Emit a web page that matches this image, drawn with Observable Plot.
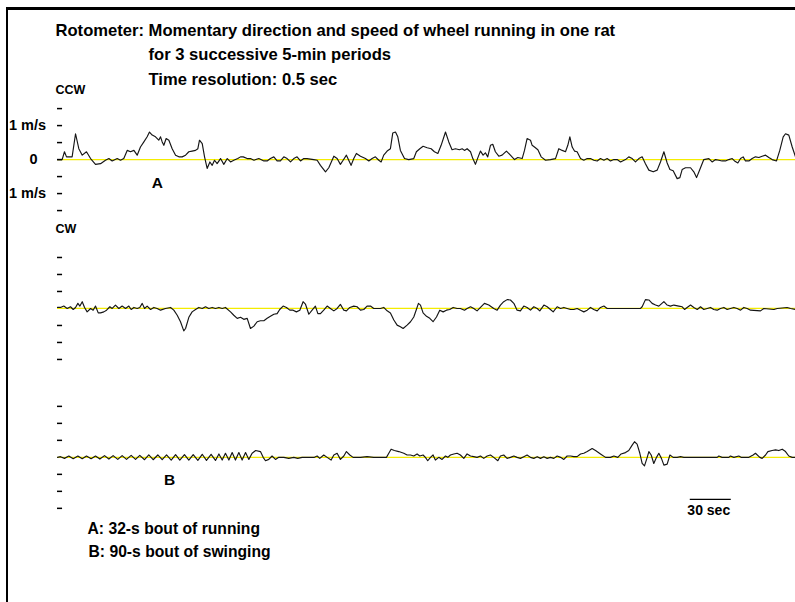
<!DOCTYPE html>
<html>
<head>
<meta charset="utf-8">
<script src="https://cdn.jsdelivr.net/npm/d3@7"></script>
<script src="https://cdn.jsdelivr.net/npm/@observablehq/plot@0.6"></script>
<style>
  html, body { margin: 0; padding: 0; background: #fff; }
  body { width: 795px; height: 602px; position: relative; overflow: hidden; }
  #chart { position: absolute; left: 0; top: 0; }
  #frame {
    position: absolute; left: 6px; top: 7px; right: -10px; bottom: -10px;
    border-top: 3px solid #000; border-left: 2px solid #000; pointer-events: none;
  }
</style>
</head>
<body>
<div id="chart"></div>
<div id="frame"></div>
<script>
// Wheel speed in m/s (positive = counter-clockwise, negative = clockwise),
// as [time in s, speed] pairs for three successive recording periods.
const period1 = [
  [0,0],[3.4,0],[5.1,0.23],[6.6,0.08],[10.7,0.08],[13.2,0.76],[15.6,0.32],[18.1,0.13],[21.2,0.23],[24.2,0.03],
  [27.8,-0.14],[31.5,-0.12],[35.1,-0.02],[37.6,0.03],[40,-0.04],[43.7,0.03],[46.1,-0.02],[48.5,0.03],[51,0.27],[53.4,0.23],
  [55.9,0.27],[58.3,0.13],[60.7,0.37],[63.2,0.52],[65.6,0.67],[67.3,0.81],[69.3,0.72],[71.7,0.67],[74.1,0.57],[75.4,0.67],
  [76.6,0.52],[77.8,0.42],[79.5,0.62],[81.5,0.57],[83.9,0.32],[86.4,0.13],[88.8,0.08],[91.2,0.08],[93.7,0.13],[96.1,0.23],
  [98.5,0.25],[101,0.27],[102.7,0.32],[103.9,0.57],[105.9,0.47],[107.6,0.08],[109.5,-0.26],[111.5,-0.07],[113.2,-0.17],[114.9,-0.02],
  [116.8,-0.12],[119.3,0.03],[121.7,-0.14],[124.2,0.03],[126.6,-0.07],[129,-0.02],[131.9,0.03],[133.9,0.08],[135.9,0.08],[138.8,0.03],
  [141.2,0.03],[143.7,-0.02],[147.3,0.03],[151,-0.04],[153.4,-0.04],[155.8,0.03],[158.3,0.08],[160.7,-0.04],[163.1,-0.04],[165.6,0.08],
  [168,0.03],[170.5,-0.07],[172.9,0.03],[175.3,0.08],[177.8,-0.04],[180.2,0.03],[182.6,0.03],[187.5,0],[190,-0.02],[192.4,-0.17],
  [196.1,-0.36],[198.5,-0.24],[202.2,0.1],[204.6,0.03],[207,-0.14],[209,-0.02],[211.4,0.13],[213.1,-0.02],[214.8,-0.17],[216.8,0.03],
  [218.7,0.18],[221.7,0.1],[225.3,0.03],[227.8,-0.04],[230.2,0.03],[232.6,0.08],[235.1,-0.02],[236.8,-0.07],[238.7,0.13],[241.2,0.25],
  [243.6,0.32],[245.3,0.78],[247.3,0.81],[249,0.67],[250.9,0.27],[253.9,0.03],[257,0],[260.7,0.03],[262.6,0.23],[265.1,0.32],
  [267.5,0.39],[270.5,0.35],[273.4,0.32],[275.8,0.23],[278.3,0.18],[280.7,0.42],[283.9,0.81],[286.3,0.52],[288.7,0.29],[291.2,0.32],
  [294.1,0.29],[296.1,0.32],[297.8,0.27],[299.7,0.32],[302.2,0.23],[303.9,0.03],[305.8,-0.14],[307.8,0.08],[309.5,0.25],[311.4,0.13],
  [313.1,0.2],[314.8,0.08],[316.8,0.42],[318.5,0.45],[320.4,0.23],[322.9,0.1],[325.3,0.13],[328.5,0.25],[331.4,0.13],[334.4,0],
  [336.8,0.06],[340,0.03],[341.7,0.27],[343.6,0.62],[346.1,0.57],[347.3,0.42],[349,0.37],[351.5,0.29],[353.9,0.08],[357.1,-0.02],
  [360.7,0],[364.4,0.03],[366.8,0.32],[369.3,0.27],[371.7,0.23],[373.4,0.42],[374.9,0.67],[376.6,0.37],[378.3,0.25],[380.2,0.23],
  [382.7,0.03],[385.1,-0.02],[387.6,0.03],[390,0.03],[392.4,-0.02],[394.9,-0.04],[397.3,0.03],[399.8,-0.02],[402.2,0.03],[404.6,-0.04],
  [407.1,0],[409.5,0],[412,-0.07],[415.6,0],[418,0.08],[420.5,0.03],[422.9,-0.07],[425.4,0.03],[427.8,0.08],[430.2,-0.12],
  [432.7,-0.31],[435.9,-0.36],[438.8,-0.31],[441.2,-0.07],[443.7,0.23],[446.1,-0.1],[448.1,-0.29],[450.5,-0.33],[453.4,-0.56],[455.4,-0.53],
  [457.1,-0.29],[459.5,-0.24],[463.2,-0.24],[465.6,-0.36],[467.6,-0.53],[470,-0.29],[472.9,0],[476.6,0.03],[479,-0.07],[481.5,0],
  [483.9,-0.02],[486.3,-0.04],[488.8,-0.04],[491.2,0],[493.7,0.03],[495.4,-0.04],[497.8,-0.1],[499.8,0.03],[501.7,0.08],[503.4,-0.04],
  [505.9,-0.04],[508.3,0.03],[510.7,0.08],[513.2,0.06],[515.6,0.1],[518.1,0.13],[520.5,0.06],[522.9,0],[526.1,-0.04],[528.5,0.27],
  [531,0.67],[532.7,0.76],[535.1,0.72],[537.6,0.37],[540,0.08]
];

const period2 = [
  [0,0.03],[2.2,0.03],[4.6,0.07],[7.1,0],[9.5,0.05],[11.5,-0.03],[13.2,0.03],[14.9,0.15],[16.4,0.07],[18.1,0.2],
  [19.8,0.03],[21.7,-0.1],[24.2,0],[26.1,-0.05],[27.8,0.07],[29.8,-0.13],[31.5,-0.13],[33.9,-0.1],[35.9,-0.05],[38.3,0.05],
  [40,0],[42.4,0.1],[44.9,0],[47.3,0.07],[49.8,0],[52.2,0.07],[53.9,-0.03],[55.9,0.03],[58.3,0],[60.2,0.03],
  [62,0.15],[63.7,0],[65.6,0.07],[68.1,-0.03],[70.5,0.03],[72.9,0],[75.4,-0.05],[79,0],[82.7,0.03],[85.1,-0.05],
  [87.6,-0.2],[90,-0.39],[92.4,-0.66],[93.7,-0.59],[96.1,-0.26],[98.5,-0.1],[101,-0.03],[103.4,0.03],[105.9,0],[108.3,0.05],
  [110.7,0],[113.2,0.03],[115.6,0],[118.1,0.03],[120.5,0],[122.9,0.03],[126.6,-0.1],[129,-0.2],[131.5,-0.29],[133.9,-0.26],
  [136.3,-0.32],[138.8,-0.29],[141.2,-0.59],[143.7,-0.52],[146.1,-0.39],[148.5,-0.36],[151,-0.36],[153.4,-0.29],[155.8,-0.23],[158.3,-0.17],
  [160.7,-0.15],[162.6,-0.03],[165.1,0.07],[167.5,0.03],[170,-0.05],[172.4,-0.05],[174.8,-0.1],[177.3,-0.05],[179.7,0.2],[181.4,0.13],
  [183.9,-0.17],[186.3,-0.05],[188.7,0.07],[190.5,-0.15],[192.4,-0.15],[194.8,-0.05],[197.3,0.07],[199.7,0],[202.2,-0.07],[204.6,0],
  [207,0.12],[209.5,-0.05],[211.4,-0.07],[213.9,0.03],[216.8,0.07],[219.2,0.05],[221.7,-0.05],[224.1,-0.03],[226.5,0.07],[229,0.07],
  [231.4,0],[233.9,0],[236.3,0],[238.7,0.03],[241.2,-0.07],[243.6,-0.13],[246.1,-0.34],[248.5,-0.49],[250.9,-0.54],[252.9,-0.59],
  [255.8,-0.49],[258.3,-0.39],[260.7,-0.25],[262.6,-0.03],[264.1,0.15],[265.6,0.1],[267.5,-0.13],[270,-0.23],[272.4,-0.29],[274.8,-0.39],
  [277.3,-0.25],[279.7,-0.05],[282.2,-0.1],[284.6,-0.05],[287,-0.03],[289.5,0.03],[292.4,0],[294.8,0],[297.8,-0.05],[299.7,0],
  [302.2,0.05],[304.6,0],[307,-0.07],[309.5,0.03],[312.4,0.15],[315.6,0.1],[319.2,0],[321.7,-0.05],[324.1,0.1],[326.5,0.2],
  [329,0.26],[331.4,0.25],[333.9,0.15],[336.3,-0.05],[338.7,-0.07],[341.2,0.07],[343.6,0.03],[346.1,-0.05],[348.5,0.05],[351,0],
  [352.9,-0.07],[355.9,0.1],[358.3,0.05],[360.7,-0.03],[362.7,-0.1],[365.6,0.05],[368.1,0],[370.5,0.03],[372.9,0],[375.4,-0.03],
  [377.8,-0.03],[380.2,0],[382.7,-0.05],[385.1,-0.1],[387.6,-0.05],[390,0.03],[392.4,-0.03],[394.9,-0.07],[397.3,0.03],[399.8,0.07],
  [402.2,0],[426.6,0],[427.8,0.05],[430.2,0.26],[432.7,0.25],[435.1,0.15],[437.6,0.1],[440,0.07],[443.7,0.2],[446.1,0.1],
  [448.5,0.07],[451,0.1],[454.6,0.07],[457.1,0.05],[458.8,-0.03],[460.7,0.03],[463.2,0.1],[465.6,0.03],[468.1,-0.03],[470.5,0.05],
  [472.9,-0.03],[475.4,0],[477.8,0.03],[480.2,-0.03],[482.7,-0.05],[485.1,0],[487.6,0.03],[490,-0.03],[492.4,0],[494.9,0.03],
  [497.3,0],[499.8,-0.05],[502.2,0.03],[504.6,0],[507.1,-0.05],[514.4,-0.07],[516.8,0],[524.2,-0.03],[526.6,0],[533.9,0.03],
  [536.4,0],[540,-0.03]
];

const period3 = [
  [0,0],[2.2,0.02],[5.1,-0.03],[8.3,0.04],[11.5,-0.04],[14.9,0.04],[18.1,-0.04],[21.2,0.04],[24.6,-0.04],[27.8,0.04],
  [31,-0.05],[34.4,0.05],[37.6,-0.05],[40.7,0.05],[44.1,-0.06],[47.3,0.05],[50.5,-0.06],[53.9,0.06],[57.1,-0.06],[60.2,0.06],
  [63.7,-0.07],[66.8,0.07],[70,-0.07],[73.4,0.07],[76.6,-0.07],[79.8,0.07],[83.2,-0.08],[86.4,0.08],[89.5,-0.08],[92.9,0.08],
  [96.1,-0.08],[99.3,0.08],[102.7,-0.09],[105.9,0.09],[109,-0.09],[112.4,0.09],[115.6,-0.09],[118.1,0.1],[120.5,-0.08],[122.9,0.12],
  [125.4,-0.08],[127.8,0.14],[130.2,-0.08],[132.7,0.14],[135.1,-0.08],[137.6,0.14],[140,-0.06],[142.4,0.12],[145,0.2],[148.5,0.17],
  [150.5,0],[152.2,-0.1],[154.6,-0.06],[157,0.04],[159.5,-0.06],[161.9,0],[165.6,0],[169.2,-0.03],[172.9,0],[175.8,-0.03],
  [179,0],[183.9,0],[188,0],[190,0.04],[191.9,-0.03],[194.8,0.07],[197.3,0],[200.2,-0.08],[202.2,0.07],[204.6,0.12],
  [207,-0.06],[209.5,0.04],[211.4,0.17],[213.9,0.07],[216.3,0],[221.7,0],[226.5,0.02],[231.4,0],[240.7,0],[242.4,0.12],
  [244.1,0.24],[246.5,0.2],[249.7,0.17],[253.4,0.12],[255.8,0.07],[258.3,0.07],[260.7,0.04],[263.1,0.1],[265.1,0.04],[267.5,0.07],
  [269.2,0],[270.9,-0.1],[272.9,0],[274.8,0.07],[276.5,-0.08],[279,0],[281.4,-0.06],[283.9,0.04],[285.6,0],[287.5,0.07],
  [290,0.1],[292.4,0.12],[294.8,0.07],[297.3,-0.03],[299.7,0.1],[302.2,0.04],[304.6,0.02],[307,0],[309.5,0.04],[311.9,-0.03],
  [314.4,0.04],[316.8,0.07],[319.2,0],[322.2,-0.1],[324.1,0.04],[326.5,0.07],[329,-0.03],[331.4,0],[333.9,0.04],[336.3,0],
  [338.7,-0.03],[341.2,0.02],[343.6,0.07],[346.1,0],[348.5,-0.03],[351,0.02],[353.4,-0.03],[355.9,0.02],[358.3,-0.03],[360.7,0],
  [363.2,-0.03],[365.6,0.04],[368.1,0],[370.5,-0.06],[372.9,0.04],[375.4,0.04],[377.8,0.02],[380.2,0.02],[382.7,0.1],[385.1,0.12],
  [387.6,0.17],[391.2,0.26],[393.7,0.2],[397.3,0.1],[401,0],[404.6,0],[407.1,0.04],[410,0],[412.4,0.1],[415.6,0.14],
  [418,0.2],[420.5,0.36],[422.2,0.46],[424.1,0.39],[426.1,0.12],[427.8,-0.18],[429.5,-0.25],[431.5,0],[432.7,0.17],[434.4,0.07],
  [436.3,-0.18],[438.3,0],[440,0.12],[441.9,-0.03],[443.7,-0.23],[446.1,-0.2],[448.1,0.07],[450.5,0],[453.4,0],[455.9,0.02],
  [458.3,0],[482.7,0],[483.9,0.04],[486.3,0],[491.2,0],[492.4,0.04],[494.9,0],[498.5,0.04],[500.2,0],[505.9,0],
  [509,0.07],[510.7,0.12],[513.9,0],[515.6,-0.03],[518.1,0.07],[519.8,0.17],[522.9,0.2],[525.4,0.22],[527.8,0.2],[530.3,0.24],
  [532.7,0.17],[535.1,0.04],[537.6,0],[540,0]
];

const periods = [period1, period2, period3];

// Speed ticks (m/s) drawn beside every trace; zero is marked on the first one only.
const speedTicks = [-1.5, -1, -0.5, 0.5, 1, 1.5];

// Speed labels on the first trace.
const unitLabels = [{v: 1, text: "1 m/s"}, {v: -1, text: "1 m/s"}];
const zeroLabel = [{v: 0, text: "0"}];
const directionLabels = [{v: 2.05, text: "CCW"}, {v: -2.05, text: "CW"}];

// Episode markers: letter, period index, time (s), and speed (m/s) where the letter sits.
const episodes = [
  {label: "A", period: 0, t: 73, v: -0.68},
  {label: "B", period: 2, t: 82, v: -0.68}
];

const titleLines = [
  "Rotometer: Momentary direction and speed of wheel running in one rat",
  "for 3 successive 5-min periods",
  "Time resolution: 0.5 sec"
];

const notes = ["A: 32-s bout of running", "B: 90-s bout of swinging"];

// Time scale bar: start (s) and length (s), placed below the third trace.
const scaleBar = {start: 463, length: 30, v: -1.235, label: "30 sec"};

// Each period gets its own track; tracks are stacked this many m/s apart.
const TRACK_STEP = 4.38;
const trackY = (period, v) => v - period * TRACK_STEP;

const samples = periods.flatMap((p, i) => p.map(([t, v]) => ({period: i, t, y: trackY(i, v)})));
const tickRows = periods.flatMap((p, i) =>
  (i === 0 ? [...speedTicks, 0] : speedTicks).map(v => ({y: trackY(i, v)}))
);
const font = "'Liberation Sans', Arial, Helvetica, sans-serif";

// Text placed at fixed offsets from the top-left corner of the chart.
const cornerText = (text, dx, dy, fontSize) => Plot.text([text], {
  text: d => d, frameAnchor: "top-left", textAnchor: "start", lineAnchor: "bottom",
  dx, dy, fontSize, fontWeight: "bold"
});

const chart = Plot.plot({
  width: 795,
  height: 602,
  margin: 0,
  style: {fontFamily: font, background: "transparent", color: "#000"},
  x: {domain: [0, 540], range: [57, 795], axis: null},
  y: {domain: [-13.03, 4.68], range: [602, 0], axis: null},
  marks: [
    // zero-speed baselines
    Plot.ruleY(periods.map((p, i) => trackY(i, 0)), {x1: 0, x2: 540, stroke: "#f4ec00", strokeWidth: 1.2}),
    // speed traces
    Plot.line(samples, {x: "t", y: "y", z: "period", stroke: "#151515", strokeWidth: 1.15, strokeLinejoin: "round"}),
    // speed tick dashes
    Plot.ruleY(tickRows, {y: "y", x1: 0, x2: 3.7, stroke: "#000", strokeWidth: 1.5}),
    // speed labels
    Plot.text(unitLabels, {
      y: d => trackY(0, d.v), text: "text", frameAnchor: "left", textAnchor: "start",
      dx: 8.5, fontSize: 14.5, fontWeight: "bold"
    }),
    Plot.text(zeroLabel, {
      y: d => trackY(0, d.v), text: "text", frameAnchor: "left", textAnchor: "start",
      dx: 29, fontSize: 14.5, fontWeight: "bold"
    }),
    Plot.text(directionLabels, {
      y: d => trackY(0, d.v), text: "text", frameAnchor: "left", textAnchor: "start",
      dx: 55, fontSize: 12.5, fontWeight: "bold"
    }),
    // episode letters
    Plot.text(episodes, {
      x: "t", y: d => trackY(d.period, d.v), text: "label", fontSize: 15.5, fontWeight: "bold"
    }),
    // time scale bar
    Plot.ruleY([scaleBar], {
      y: d => trackY(2, d.v), x1: d => d.start, x2: d => d.start + d.length, stroke: "#000", strokeWidth: 1.2
    }),
    Plot.text([scaleBar], {
      x: d => d.start + d.length / 2, y: d => trackY(2, d.v), text: "label",
      dy: 11, dx: -2, fontSize: 14, fontWeight: "bold"
    }),
    // title block
    cornerText(titleLines[0], 55, 35.5, 16.6),
    cornerText(titleLines[1], 148, 59.5, 16.6),
    cornerText(titleLines[2], 148, 84, 16.6),
    // notes
    cornerText(notes[0], 87, 533, 15.7),
    cornerText(notes[1], 88, 556.5, 15.7)
  ]
});

document.getElementById("chart").append(chart);
</script>
</body>
</html>
